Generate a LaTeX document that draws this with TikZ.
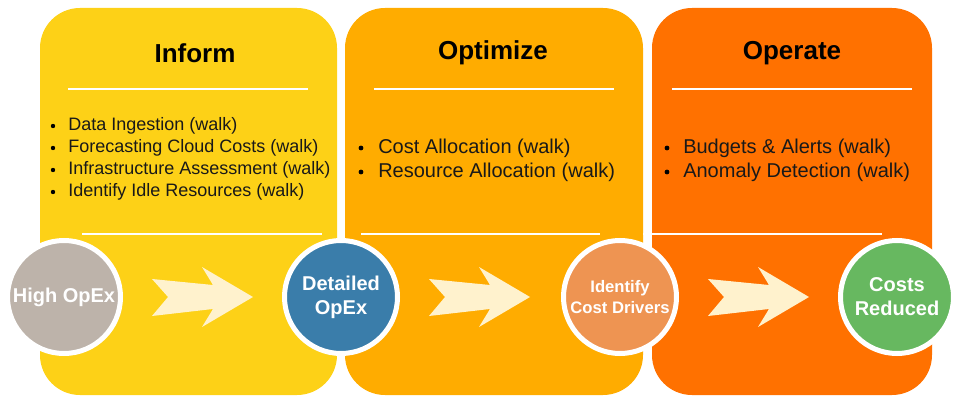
\documentclass[tikz,border=0pt]{standalone}
\usepackage{fontspec}
\setmainfont{Liberation Sans}

\definecolor{informcol}{RGB}{253,209,23}
\definecolor{optimcol}{RGB}{255,172,0}
\definecolor{operatecol}{RGB}{255,113,0}
\definecolor{highcol}{RGB}{189,179,170}
\definecolor{detailcol}{RGB}{58,125,170}
\definecolor{drivercol}{RGB}{238,148,82}
\definecolor{reducedcol}{RGB}{103,184,96}
\definecolor{chevcol}{RGB}{255,242,205}

\begin{document}
\begin{tikzpicture}[x=0.75pt,y=-0.75pt,
	phase/.style={rounded corners=30pt},
	sep/.style={draw=white, line width=1.5pt},
	title/.style={font=\fontsize{19.5}{23}\selectfont\bfseries},
	item/.style={anchor=west, inner sep=0pt, text=black!90},
	state/.style={circle, draw=white, line width=3.75pt, minimum size=84.75pt, inner sep=0pt,
		text=white, align=center, font=\fontsize{15}{18}\selectfont\bfseries},
	chevron/.style={fill=chevcol}]
	
	\useasboundingbox (0,0) rectangle (961,403);
	
	% the three phases
	\fill[informcol, phase] (40,8) rectangle (337,395);
	\fill[optimcol, phase] (345,8) rectangle (643,395);
	\fill[operatecol, phase] (652,8) rectangle (932,395);
	
	% separators
	\draw[sep] (68,89) -- (308,89);
	\draw[sep] (374,89) -- (614,89);
	\draw[sep] (672,89) -- (912,89);
	\draw[sep] (82,234) -- (322,234);
	\draw[sep] (361,234) -- (600,234);
	\draw[sep] (643,234) -- (882,234);
	
	% titles
	\node[title] (inform) at (195,53) {Inform};
	\node[title] (optimize) at (493,53) {Optimize};
	\node[title] (operate) at (792,53) {Operate};
	
	% bullet lists
	\foreach \txt [count=\i] in {Data Ingestion (walk), Forecasting Cloud Costs (walk),
		Infrastructure Assessment (walk), Identify Idle Resources (walk)}
	{
		\node[item, font=\fontsize{13.5}{16}\selectfont] (inf\i) at (68,{126+22*(\i-1)}) {\txt};
		\fill[black] (53,{126+22*(\i-1)}) circle (2.2);
	}
	\foreach \txt [count=\i] in {Cost Allocation (walk), Resource Allocation (walk)}
	{
		\node[item, font=\fontsize{15}{18}\selectfont] (opt\i) at (378,{148+24*(\i-1)}) {\txt};
		\fill[black] (361,{148+24*(\i-1)}) circle (2.4);
	}
	\foreach \txt [count=\i] in {Budgets \& Alerts (walk), Anomaly Detection (walk)}
	{
		\node[item, font=\fontsize{15}{18}\selectfont] (ope\i) at (683,{148+24*(\i-1)}) {\txt};
		\fill[black] (667,{148+24*(\i-1)}) circle (2.4);
	}
	
	% states
	\node[state, fill=highcol] (high) at (64,297) {High OpEx};
	\node[state, fill=detailcol] (detail) at (341,297) {Detailed\\OpEx};
	\node[state, fill=drivercol, font=\fontsize{12.5}{15.75}\selectfont\bfseries] (drivers) at (620,297) {Identify\\Cost Drivers};
	\node[state, fill=reducedcol] (reduced) at (897,297) {Costs\\Reduced};
	
	% chevrons between the states
	\foreach \a in {high, detail, drivers}
	\fill[chevron, shift={(\a.center)}] (88,-18) -- (149,-12) -- (138,-30) -- (189,0)
	-- (138,30) -- (149,12) -- (88,19) -- (104,0) -- cycle;
	
\end{tikzpicture}
\end{document}
